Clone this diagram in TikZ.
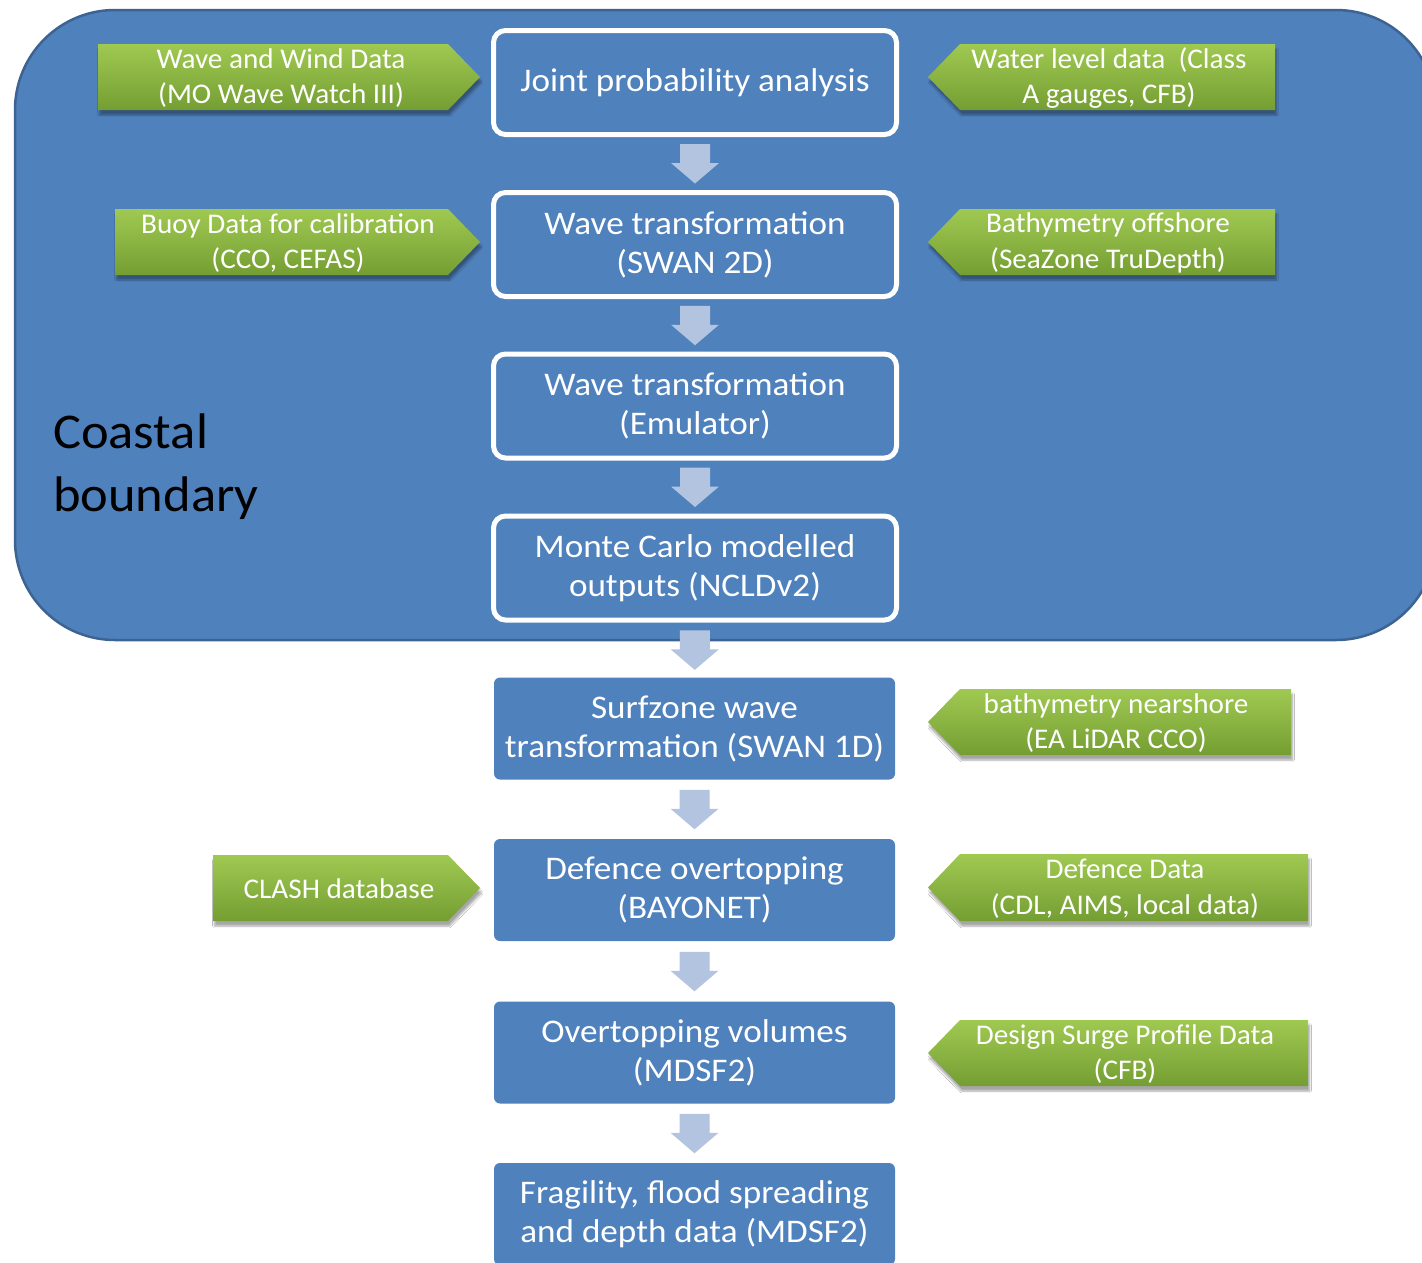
\documentclass[tikz,border=0pt]{standalone}
\usepackage{fontspec}
\setmainfont{Carlito}
\newfontfamily\boxfam{Carlito}[FakeStretch=1.065]
\newfontfamily\gfam{Carlito}[FakeStretch=1.025]
\newfontfamily\cbfam{Carlito}[FakeStretch=1.05]
\usetikzlibrary{calc,shadows.blur}
\definecolor{mainblue}{RGB}{79,129,189}
\definecolor{bigedge}{RGB}{60,99,145}
\definecolor{flowarr}{RGB}{178,196,224}
\definecolor{gtop}{RGB}{160,201,82}
\definecolor{gbot}{RGB}{116,158,50}
\newcommand\boxfont{\boxfam\fontsize{33}{39}\selectfont}
\newcommand\gfont{\gfam\fontsize{28.5}{35.5}\selectfont}
\newcommand\flowarrow[2]{\fill[flowarr] ($(#1.south)!0.5!(#2.north)$) ++(-15,-19.5) -- ++(30,0) -- ++(0,19) -- ++(9,0) -- ++(-24,20.5) -- ++(-24,-20.5) -- ++(9,0) -- cycle;}
\tikzset{
  topbox/.style={draw=white, line width=5pt, fill=mainblue, rounded corners=12pt,
    minimum width=403pt, minimum height=104pt, text=white, align=center, font=\boxfont, inner sep=0pt},
  lowbox/.style={fill=mainblue, rounded corners=6pt, minimum width=401pt, minimum height=102pt,
    text=white, align=center, font=\boxfont, inner sep=0pt},
  greenarr/.style={top color=gtop, bottom color=gbot, draw=none,
    blur shadow={shadow xshift=1.5pt, shadow yshift=-5pt, shadow blur steps=6, shadow opacity=35}},
  gtext/.style={text=white, align=center, font=\gfont, inner sep=0pt},
}
\begin{document}
\begin{tikzpicture}[x=1pt,y=-1pt]
\useasboundingbox (0,0) rectangle (1422,1262);
\clip (0,0) rectangle (1422,1262);
\fill[white] (0,0) rectangle (1422,1262);
% coastal boundary container
\draw[bigedge, line width=2.5pt, fill=mainblue, rounded corners=100pt] (15,10) rectangle (1436,640);
\node[anchor=west, align=left, inner sep=0pt, font=\cbfam\fontsize{50}{63}\selectfont] (cb) at (53,467) {Coastal\\boundary};

% main chain
\node[topbox] (b1) at (695,82.5) {Joint probability analysis};
\node[topbox] (b2) at (695,244.5) {Wave transformation\\(SWAN 2D)};
\node[topbox] (b3) at (695,406) {Wave transformation\\(Emulator)};
\node[topbox] (b4) at (695,568) {Monte Carlo modelled\\outputs (NCLDv2)};
\node[lowbox] (b5) at (694.5,728.5) {Surfzone wave\\transformation (SWAN 1D)};
\node[lowbox] (b6) at (694.5,890) {Defence overtopping\\(BAYONET)};
\node[lowbox] (b7) at (694.5,1052.5) {Overtopping volumes\\(MDSF2)};
\node[lowbox] (b8) at (694.5,1214) {Fragility, flood spreading\\and depth data (MDSF2)};

\flowarrow{b1}{b2}
\flowarrow{b2}{b3}
\flowarrow{b3}{b4}
\flowarrow{b4}{b5}
\flowarrow{b5}{b6}
\flowarrow{b6}{b7}
\flowarrow{b7}{b8}

% left inputs (pointing right)
\path[greenarr] (98,44) -- (448,44) -- (480,77) -- (448,110) -- (98,110) -- cycle;
\node[gtext] (l1) at (281,78) {Wave and Wind Data\\(MO Wave Watch III)};
\path[greenarr] (115,209) -- (448,209) -- (480,242) -- (448,275) -- (115,275) -- cycle;
\node[gtext] (l2) at (288,243) {Buoy Data for calibration\\(CCO, CEFAS)};
\path[greenarr] (213,855) -- (448,855) -- (480,888) -- (448,921) -- (213,921) -- cycle;
\node[gtext] (l3) at (339,889) {CLASH database};

% right inputs (pointing left)
\path[greenarr] (928,77) -- (960,44) -- (1275,44) -- (1275,110) -- (960,110) -- cycle;
\node[gtext] (r1) at (1109,78) {Water level data~ (Class\\A gauges, CFB)};
\path[greenarr] (928,242) -- (960,209) -- (1275,209) -- (1275,275) -- (960,275) -- cycle;
\node[gtext] (r2) at (1108,243) {Bathymetry offshore\\(SeaZone TruDepth)};
\path[greenarr] (928,722) -- (960,689) -- (1291,689) -- (1291,755) -- (960,755) -- cycle;
\node[gtext] (r3) at (1116,723) {bathymetry nearshore\\(EA LiDAR CCO)};
\path[greenarr] (928,887.5) -- (960,854) -- (1308,854) -- (1308,921) -- (960,921) -- cycle;
\node[gtext] (r4) at (1125,888.5) {Defence Data\\(CDL, AIMS, local data)};
\path[greenarr] (928,1053) -- (960,1020) -- (1308,1020) -- (1308,1086) -- (960,1086) -- cycle;
\node[gtext] (r5) at (1125,1054) {Design Surge Profile Data\\(CFB)};
\end{tikzpicture}
\end{document}
